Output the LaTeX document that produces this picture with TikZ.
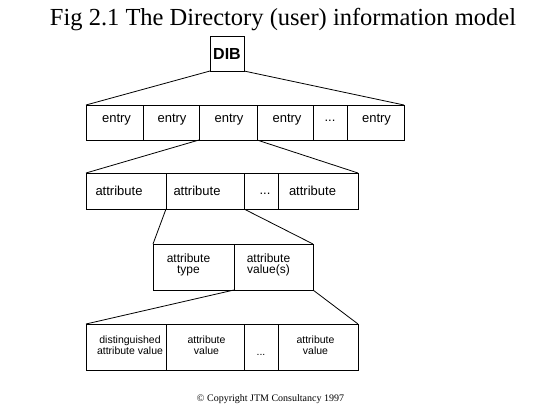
\documentclass[tikz,border=0pt]{standalone}
\usepackage{fontspec}
\setmainfont{Liberation Serif}
\setsansfont{Liberation Sans}
\usetikzlibrary{positioning}
\tikzset{
  cell/.style={draw, line width=0.9pt, inner sep=0pt, outer sep=0pt},
  erow/.style={cell, minimum height=35pt},
  arow/.style={cell, minimum height=36pt},
  trow/.style={cell, minimum height=46pt},
  lab/.style={font=\sffamily\fontsize{13}{14}\selectfont},
  mlab/.style={font=\sffamily\fontsize{12}{11}\selectfont, align=center},
  slab/.style={font=\sffamily\fontsize{10.5}{11}\selectfont, align=center},
  fan/.style={line width=0.8pt},
}
\begin{document}
\begin{tikzpicture}[x=1pt, y=-1pt]
  \useasboundingbox (0,0) rectangle (547,410);
  \node[font=\fontsize{24.5}{28}\selectfont, anchor=base] (title) at (283,25)
    {Fig 2.1 The Directory (user) information model};
  \node[cell, minimum width=34pt, minimum height=35pt, anchor=north west,
    font=\sffamily\bfseries\fontsize{16}{18}\selectfont] (dib) at (210,36) {DIB};
  % entries
  \node[erow, minimum width=57pt, anchor=north west,
    label={[lab, yshift=3pt, xshift=2pt]center:entry}] (e1) at (86,105) {};
  \node[erow, minimum width=56pt, right=0pt of e1,
    label={[lab, yshift=3pt, xshift=1pt]center:entry}] (e2) {};
  \node[erow, minimum width=58pt, right=0pt of e2,
    label={[lab, yshift=3pt, xshift=1pt]center:entry}] (e3) {};
  \node[erow, minimum width=56pt, right=0pt of e3,
    label={[lab, yshift=3pt, xshift=2pt]center:entry}] (e4) {};
  \node[erow, minimum width=34pt, right=0pt of e4,
    label={[lab, yshift=2pt]center:...}] (e5) {};
  \node[erow, minimum width=57pt, right=0pt of e5,
    label={[lab, yshift=3pt, xshift=1pt]center:entry}] (e6) {};
  \draw[fan] (dib.south west) -- (e1.north west);
  \draw[fan] (dib.south east) -- (e6.north east);
  % attributes of one entry
  \node[arow, minimum width=80pt, anchor=north west,
    label={[lab, xshift=-7pt]center:attribute}] (a1) at (86,173) {};
  \node[arow, minimum width=78pt, right=0pt of a1,
    label={[lab, xshift=-8pt]center:attribute}] (a2) {};
  \node[arow, minimum width=34pt, right=0pt of a2,
    label={[lab, yshift=-2.5pt, xshift=4pt]center:...}] (a3) {};
  \node[arow, minimum width=80pt, right=0pt of a3,
    label={[lab, xshift=-5.5pt]center:attribute}] (a4) {};
  \draw[fan] (e3.south west) -- (a1.north west);
  \draw[fan] (e3.south east) -- (a4.north east);
  % type and values
  \node[trow, minimum width=81pt, anchor=north west,
    label={[mlab, yshift=1.7pt, xshift=-5pt]center:attribute\\type}] (t1) at (153,244) {};
  \node[trow, minimum width=79pt, right=0pt of t1,
    label={[mlab, yshift=1.7pt, xshift=-5pt]center:attribute\\value(s)}] (t2) {};
  \draw[fan] (a2.south west) -- (t1.north west);
  \draw[fan] (a2.south east) -- (t2.north east);
  % values
  \node[trow, minimum width=80pt, anchor=north west,
    label={[slab, yshift=1.3pt, xshift=4pt]center:distinguished\\attribute value}] (v1) at (86,324) {};
  \node[trow, minimum width=78pt, right=0pt of v1,
    label={[slab, yshift=1.3pt, xshift=1.5pt]center:attribute\\value}] (v2) {};
  \node[trow, minimum width=34pt, right=0pt of v2,
    label={[slab, yshift=-7.5pt]center:...}] (v3) {};
  \node[trow, minimum width=80pt, right=0pt of v3,
    label={[slab, yshift=1.3pt, xshift=-2.5pt]center:attribute\\value}] (v4) {};
  \draw[fan] (t2.south west) -- (v1.north west);
  \draw[fan] (t2.south east) -- (v4.north east);
  \node[font=\fontsize{10}{12}\selectfont, anchor=base] (copy) at (270.5,401)
    {© Copyright JTM Consultancy 1997};
\end{tikzpicture}
\end{document}
